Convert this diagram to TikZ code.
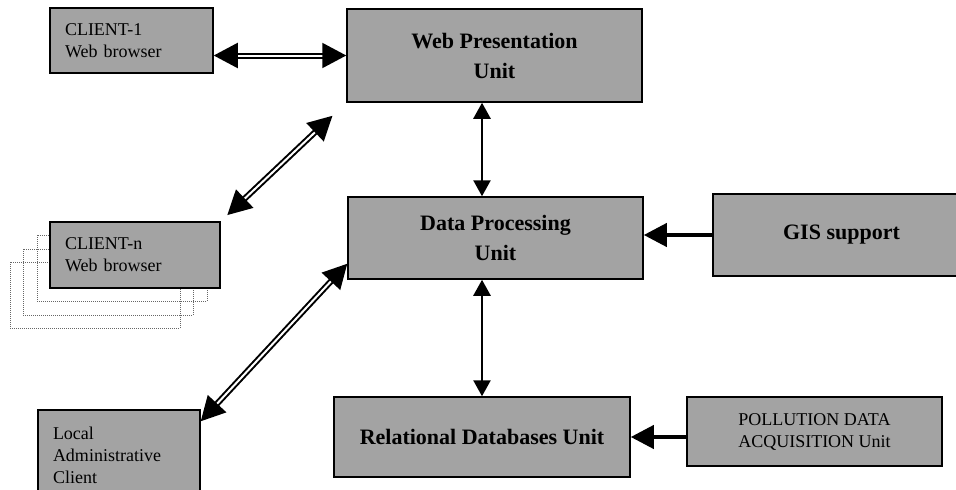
\documentclass[tikz,border=0pt]{standalone}
\usepackage{fontspec}
\setmainfont{Liberation Serif}
\usetikzlibrary{arrows.meta}
\definecolor{boxgray}{RGB}{163,163,163}

\begin{document}
\begin{tikzpicture}[x=1pt, y=-1pt,
        box/.style={draw, line width=1.5pt, fill=boxgray},
        unitbox/.style={box, align=center, font=\bfseries\fontsize{22}{30}\selectfont},
        clientbox/.style={box, align=left, inner xsep=15pt, font=\fontsize{18}{22}\selectfont},
        ghostbox/.style={draw=black!60, densely dotted, line width=1pt, minimum width=170pt, minimum height=66pt},
        twoway/.style={line width=2pt, double, double distance=2pt, >={Triangle[length=24pt,width=25pt]}, <->},
        oneway/.style={line width=2.5pt, >={Triangle[length=16pt,width=17pt]}, <->},
        feed/.style={line width=4pt, >={Triangle[length=23pt,width=23pt]}, ->}]
        \useasboundingbox (0,0) rectangle (956,490);

        % Stacked copies behind CLIENT-n
        \foreach \d/\name in {40/ghostc, 27/ghostb, 13/ghosta}
            \node[ghostbox] (\name) at (135-\d, 255+\d) {};

        % Nodes
        \draw (131.5,40.5) node[clientbox, text width=133pt, minimum height=65pt] (client1) {CLIENT-1\\Web browser};
        \draw (135,255)    node[clientbox, text width=140pt, minimum height=66pt] (clientn) {CLIENT-n\\Web browser};
        \draw (119,455)    node[clientbox, text width=132pt, minimum height=90pt] (lac) {Local\\Administrative\\Client};
        \draw (494.5,55.5) node[unitbox, minimum width=295pt, minimum height=93pt] (wpu) {Web Presentation\\Unit};
        \draw (495.5,238)  node[unitbox, minimum width=295pt, minimum height=82pt] (dpu) {Data Processing\\Unit};
        \draw (482,437)    node[unitbox, minimum width=296pt, minimum height=80pt] (rdu) {Relational Databases Unit};
        \draw (841.5,235)  node[unitbox, minimum width=257pt, minimum height=82pt] (gis) {GIS support};
        \draw (814.5,431.5) node[box, align=center, font=\fontsize{18}{22}\selectfont, minimum width=255pt, minimum height=69pt] (pda) {POLLUTION DATA\\ACQUISITION Unit};

        % Client links
        \draw[twoway] (client1.east |- wpu.west) -- (wpu.west);
        \draw[twoway, shorten <=19pt, shorten >=9pt] (wpu.south west) -- (clientn.north east);
        \draw[twoway] ([yshift=16pt]dpu.south west) -- ([yshift=-12pt]lac.north east);

        % Internal links
        \draw[oneway] (wpu.south -| rdu.north) -- (dpu.north -| rdu.north);
        \draw[oneway] (dpu.south -| rdu.north) -- (rdu.north);

        % Inputs
        \draw[feed] (gis.west) -- (dpu.east |- gis.west);
        \draw[feed] (pda.west |- rdu.east) -- (rdu.east);
    \end{tikzpicture}
\end{document}
